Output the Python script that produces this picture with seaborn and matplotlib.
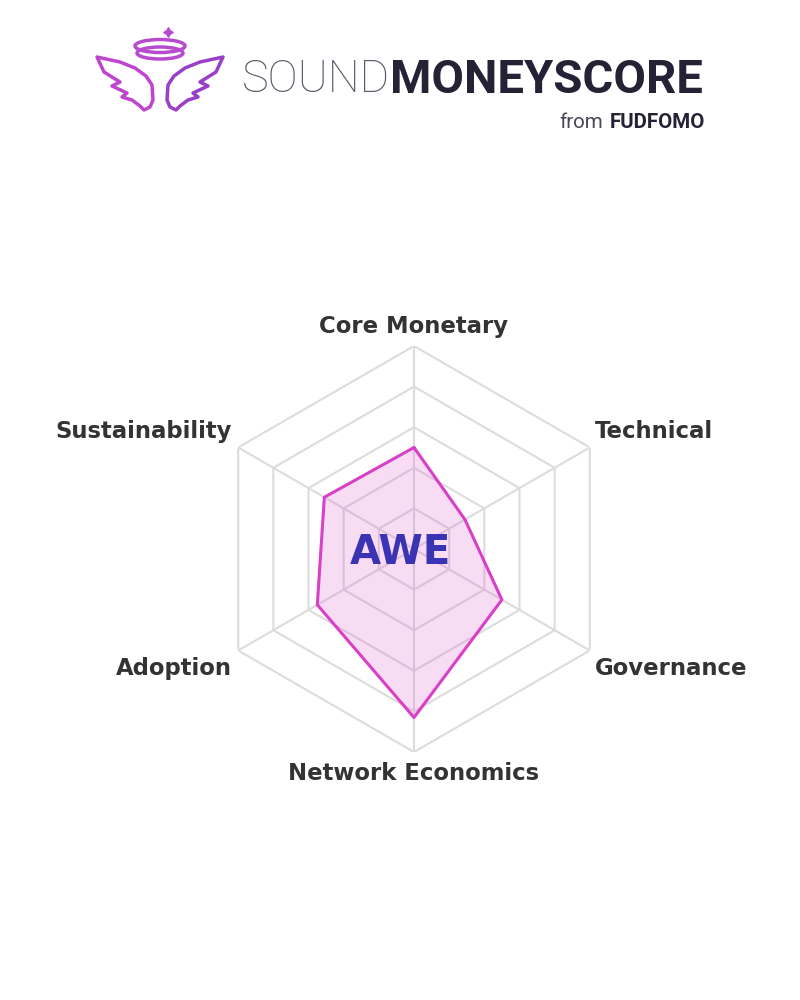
import numpy as np
import matplotlib
matplotlib.use("Agg")
from matplotlib import pyplot as plt
from matplotlib.patches import Ellipse, Polygon
import seaborn as sns

sns.set_theme(style="white")
plt.rcParams['font.family'] = ['DejaVu Sans']

# data
categories = ['Core Monetary', 'Technical', 'Governance',
              'Network Economics', 'Adoption', 'Sustainability']
scores = [5.0, 2.9, 5.0, 8.3, 5.5, 5.1]
coin = 'AWE'
max_score = 10
rings = [2, 4, 6, 8, 10]

label_offsets = [(0, 20), (5, 16), (5, -18), (0, -21), (-6, -18), (-6, 16)]
label_ha = ['center', 'left', 'left', 'center', 'right', 'right']

line_col = '#d840c8'
grid_col = '#dcdcdc'

fig = plt.figure(figsize=(8, 10), dpi=100)
fig.patch.set_facecolor('white')

# logo layer in pixel coordinates
lg = fig.add_axes([0, 0, 1, 1], zorder=0)
lg.set_xlim(0, 800)
lg.set_ylim(1000, 0)
lg.axis('off')

lg.text(242, 80, 'SOUND', fontsize=32.5, fontfamily='Roboto', fontweight=100,
        color='#5a5868', ha='left', va='center')
lg.text(703, 80, 'MONEYSCORE', fontsize=34, fontfamily='Roboto', fontweight='bold',
        color='#262236', ha='right', va='center')
lg.text(705, 123, 'FUDFOMO', fontsize=14.8, fontfamily='Roboto', fontweight='bold',
        color='#262236', ha='right', va='center')
lg.text(603, 123, 'from', fontsize=14.8, fontfamily='Roboto', color='#4a4858',
        ha='right', va='center')

# angel icon
halo_col = '#b84ad0'
lg.add_patch(Ellipse((160, 46), 50, 13, fill=False, ec=halo_col, lw=2.5))
lg.add_patch(Ellipse((160, 53), 46, 12, fill=False, ec=halo_col, lw=2.5))
lg.plot([168], [32], marker=(4, 1, 0), color=halo_col, ms=7)
left_wing = [(97, 57), (120, 62), (135, 68), (146, 76), (152, 85), (153, 100),
             (150, 107), (144, 110), (140, 106), (132, 100), (122, 97), (127, 93),
             (112, 86), (120, 82), (104, 72)]
right_wing = [(320 - x, y) for x, y in left_wing]
lg.add_patch(Polygon(left_wing, closed=True, fill=False, ec='#c044d0', lw=2.5, joinstyle='round'))
lg.add_patch(Polygon(right_wing, closed=True, fill=False, ec='#9a40c8', lw=2.5, joinstyle='round'))

# radar
cx, cy, R = 414, 549, 203
ax = fig.add_axes([(cx - R) / 800, (1000 - cy - R) / 1000, 2 * R / 800, 2 * R / 1000],
                  projection='polar', zorder=2)
ax.set_theta_offset(np.pi / 2)
ax.set_theta_direction(-1)
ax.set_ylim(0, max_score)
ax.grid(False)
ax.spines['polar'].set_visible(False)
ax.set_xticks([])
ax.set_yticks([])
ax.patch.set_alpha(0)

angles = np.linspace(0, 2 * np.pi, len(categories), endpoint=False)
closed = np.append(angles, angles[0])

for r in rings:
    ax.plot(closed, [r] * len(closed), color=grid_col, lw=1.5, zorder=1)
for a in angles:
    ax.plot([a, a], [0, max_score], color=grid_col, lw=1.5, zorder=1)

vals = np.append(scores, scores[0])
ax.fill(closed, vals, color='#e060d0', alpha=0.22, zorder=2)
ax.plot(closed, vals, color=line_col, lw=2.2, zorder=3)

for a, lab, off, ha in zip(angles, categories, label_offsets, label_ha):
    ax.annotate(lab, xy=(a, max_score), xytext=off, textcoords='offset pixels',
                ha=ha, va='center', fontsize=16.4, fontweight='bold',
                color='#333333', annotation_clip=False)

fig.text(400 / 800, 1 - 553 / 1000, coin, fontsize=29, fontweight='bold',
         color='#3a34b4', ha='center', va='center', zorder=5)

fig.savefig('out.png', dpi=100, facecolor='white')
